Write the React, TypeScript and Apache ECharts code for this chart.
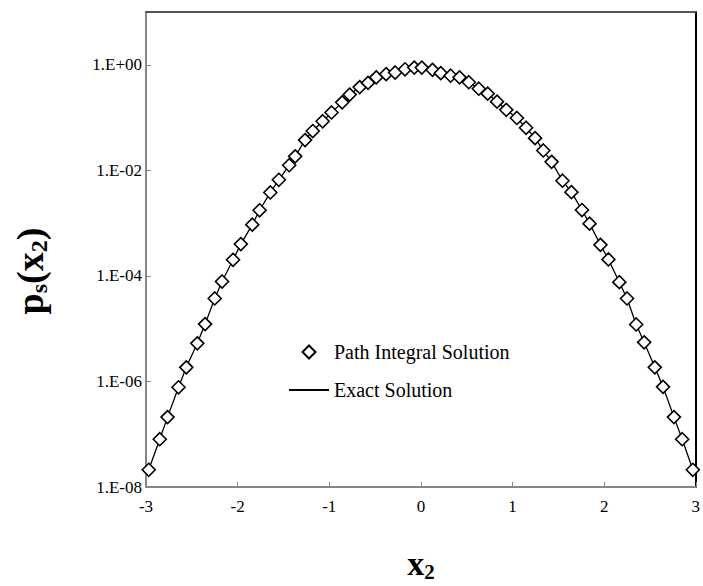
import React, { useEffect, useRef } from "react";
import * as echarts from "echarts";

// x2 positions of the plotted points
const xValues: number[] = [
  -2.97, -2.85, -2.765, -2.645, -2.56, -2.44, -2.355, -2.25, -2.17, -2.05,
  -1.965, -1.84, -1.76, -1.643, -1.55, -1.437, -1.372, -1.264, -1.18, -1.072,
  -0.975, -0.859, -0.777, -0.668, -0.577, -0.487, -0.379, -0.281, -0.173, -0.072,
  0.01, 0.127, 0.217, 0.325, 0.422, 0.523, 0.632, 0.729, 0.831, 0.932,
  1.048, 1.148, 1.246, 1.336, 1.427, 1.546, 1.643, 1.758, 1.841, 1.96,
  2.047, 2.166, 2.25, 2.35, 2.437, 2.553, 2.643, 2.762, 2.852, 2.968,
];

// Path integral solution p_s(x2)
const pathValues: number[] = [
  2.12e-8, 8.04e-8, 2.11e-7, 7.76e-7, 1.85e-6, 5.27e-6, 1.22e-5, 3.73e-5, 7.83e-5, 2.02e-4,
  4.0e-4, 9.35e-4, 1.75e-3, 3.81e-3, 6.62e-3, 1.25e-2, 1.84e-2, 3.74e-2, 5.56e-2, 8.51e-2,
  0.125, 0.194, 0.272, 0.378, 0.454, 0.578, 0.665, 0.714, 0.822, 0.885,
  0.885, 0.802, 0.693, 0.621, 0.578, 0.467, 0.352, 0.284, 0.2, 0.14,
  9.82e-2, 6.41e-2, 4.07e-2, 2.38e-2, 1.45e-2, 6.35e-3, 3.86e-3, 1.77e-3, 9.77e-4, 3.88e-4,
  2.05e-4, 7.6e-5, 3.73e-5, 1.2e-5, 5.51e-6, 1.85e-6, 7.91e-7, 2.11e-7, 8.04e-8, 2.12e-8,
];

// Exact solution (same curve through the points)
const exactValues: number[] = pathValues.slice();

const xTicks: number[] = [-3, -2, -1, 0, 1, 2, 3];
const seriesNames: string[] = ["Path Integral Solution", "Exact Solution"];

const FONT = "'Liberation Serif', 'Times New Roman', serif";
const DIAMOND = "path://M0,-1L1,0L0,1L-1,0Z";

function fmtLog(v: number): string {
  const e = Math.round(Math.log10(v));
  const s = e >= 0 ? "+" : "-";
  const a = Math.abs(e);
  return "1.E" + s + (a < 10 ? "0" + a : String(a));
}

export default function App() {
  const ref = useRef<HTMLDivElement>(null);
  useEffect(() => {
    if (!ref.current) return;
    const chart = echarts.init(ref.current, undefined, { renderer: "svg" });
    const gray = "#868686";
    const yTitleRich = {
      b: { fontFamily: FONT, fontSize: 38, fontWeight: "bold", lineHeight: 42, fill: "#000" },
      s: { fontFamily: FONT, fontSize: 24, fontWeight: "bold", lineHeight: 24, verticalAlign: "bottom", fill: "#000" },
    };
    const xTitleRich = {
      b: { fontFamily: FONT, fontSize: 34, fontWeight: "bold", lineHeight: 38, fill: "#000" },
      s: { fontFamily: FONT, fontSize: 21, fontWeight: "bold", lineHeight: 21, verticalAlign: "bottom", fill: "#000" },
    };
    chart.setOption({
      animation: false,
      backgroundColor: "#ffffff",
      grid: { left: 146, right: 6, top: 12, bottom: 99, containLabel: false },
      legend: {
        data: [
          { name: seriesNames[0], icon: DIAMOND },
          { name: seriesNames[1], itemStyle: { opacity: 0 } },
        ],
        orient: "vertical",
        left: 288,
        top: 342,
        padding: 0,
        itemWidth: 40,
        itemHeight: 13,
        itemGap: 18,
        symbolKeepAspect: true,
        textStyle: { fontFamily: FONT, fontSize: 20, color: "#000", lineHeight: 20 },
      },
      xAxis: [
        {
          type: "value",
          min: xTicks[0],
          max: xTicks[xTicks.length - 1],
          interval: 1,
          axisLine: { show: true, onZero: false, lineStyle: { color: gray, width: 2 } },
          axisTick: { show: true, inside: true, length: 5, lineStyle: { color: gray, width: 1 } },
          axisLabel: { fontFamily: FONT, fontSize: 17, color: "#000", margin: 11 },
          splitLine: { show: false },
        },
        {
          type: "value",
          position: "top",
          min: xTicks[0],
          max: xTicks[xTicks.length - 1],
          axisLine: { show: true, onZero: false, lineStyle: { color: "#555", width: 2 } },
          axisTick: { show: false },
          axisLabel: { show: false },
          splitLine: { show: false },
        },
      ],
      yAxis: [
        {
          type: "log",
          logBase: 10,
          min: 1e-8,
          max: 10,
          interval: 2,
          axisLine: { show: true, onZero: false, lineStyle: { color: gray, width: 2 } },
          axisTick: { show: true, inside: true, length: 5, lineStyle: { color: gray, width: 1 } },
          axisLabel: {
            fontFamily: FONT,
            fontSize: 17,
            color: "#000",
            margin: 4,
            showMaxLabel: false,
            formatter: (v: number) => fmtLog(v),
          },
          splitLine: { show: false },
        },
        {
          type: "log",
          logBase: 10,
          position: "right",
          min: 1e-8,
          max: 10,
          axisLine: { show: true, onZero: false, lineStyle: { color: "#000", width: 2 } },
          axisTick: { show: false },
          axisLabel: { show: false },
          splitLine: { show: false },
        },
      ],
      graphic: [
        {
          type: "text",
          x: 30,
          y: 271,
          rotation: Math.PI / 2,
          style: {
            text: "{b|p}{s|s}{b|(x}{s|2}{b|)}",
            align: "center",
            verticalAlign: "middle",
            fill: "#000",
            rich: yTitleRich,
          },
        },
        {
          type: "text",
          x: 421,
          y: 563,
          style: {
            text: "{b|x}{s|2}",
            align: "center",
            verticalAlign: "middle",
            fill: "#000",
            rich: xTitleRich,
          },
        },
      ],
      series: [
        {
          name: seriesNames[1],
          type: "line",
          data: xValues.map((x, i) => [x, exactValues[i]]),
          symbol: "none",
          showSymbol: false,
          lineStyle: { color: "#000", width: 1.3 },
          itemStyle: { color: "#000" },
          z: 2,
        },
        {
          name: seriesNames[0],
          type: "scatter",
          data: xValues.map((x, i) => [x, pathValues[i]]),
          symbol: "diamond",
          symbolSize: 13,
          itemStyle: { color: "#fff", borderColor: "#000", borderWidth: 1.6, opacity: 1 },
          z: 3,
        },
      ],
    });
    return () => chart.dispose();
  }, []);
  return (
    <div
      ref={ref}
      style={{ position: "absolute", left: 0, top: 0, width: 703, height: 586 }}
    />
  );
}
